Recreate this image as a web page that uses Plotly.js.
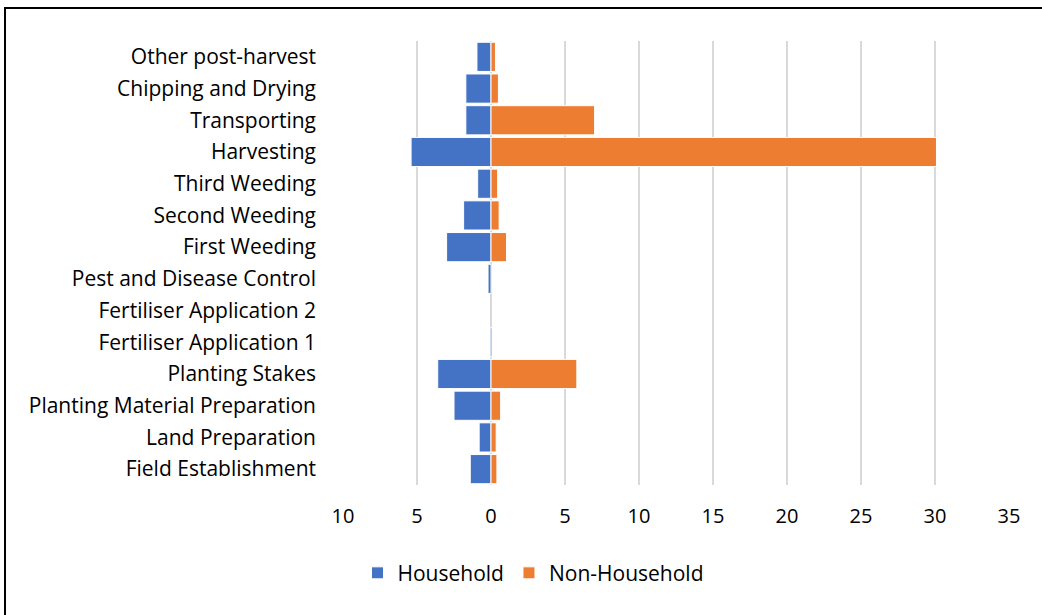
<!DOCTYPE html>
<html>
<head>
<meta charset="utf-8">
<script src="https://cdn.plot.ly/plotly-3.0.1.min.js"></script>
<style>
  html, body { margin: 0; padding: 0; background: #fff; }
  #wrap { position: relative; width: 1042px; height: 615px; }
  #chart { width: 1042px; height: 615px; }
  #frame {
    position: absolute; left: 4px; top: 7px; right: -10px; bottom: -10px;
    border-left: 2px solid #000; border-top: 2px solid #000;
    pointer-events: none;
  }
</style>
</head>
<body>
<div id="wrap">
  <div id="chart"></div>
  <div id="frame"></div>
</div>
<script>
// Activities, listed bottom to top
const activities = [
  "Field Establishment",
  "Land Preparation",
  "Planting Material Preparation",
  "Planting Stakes",
  "Fertiliser Application 1",
  "Fertiliser Application 2",
  "Pest and Disease Control",
  "First Weeding",
  "Second Weeding",
  "Third Weeding",
  "Harvesting",
  "Transporting",
  "Chipping and Drying",
  "Other post-harvest"
];

// Labour per activity
const household    = [1.4, 0.8, 2.5, 3.6, 0.1, 0.0, 0.2, 3.0, 1.85, 0.9, 5.4, 1.7, 1.7, 0.95];
const nonHousehold = [0.4, 0.35, 0.65, 5.8, 0.1, 0.0, 0.0, 1.05, 0.55, 0.45, 30.1, 7.0, 0.5, 0.3];

// Axis ticks: household drawn to the left, labelled by magnitude
const tickValues = [-10, -5, 0, 5, 10, 15, 20, 25, 30, 35];
const tickLabels = tickValues.map(v => String(Math.abs(v)));

const FONT = "'Open Sans', sans-serif";

// Outline only bars that have a length, so empty rows keep the grey zero line
const outline = vals => vals.map(v => (v === 0 ? 0 : 1));

const traces = [
  {
    type: "bar", orientation: "h", name: "Household",
    y: activities, x: household.map(v => -v),
    marker: { color: "#4472C4", line: { color: "#ffffff", width: outline(household) } },
    hoverinfo: "skip"
  },
  {
    type: "bar", orientation: "h", name: "Non-Household",
    y: activities, x: nonHousehold,
    marker: { color: "#ED7D31", line: { color: "#ffffff", width: outline(nonHousehold) } },
    hoverinfo: "skip"
  }
];

const layout = {
  width: 1042, height: 615,
  margin: { l: 343, r: 33, t: 41, b: 130 },
  paper_bgcolor: "#ffffff", plot_bgcolor: "#ffffff",
  barmode: "relative", bargap: 0.08,
  font: { family: FONT, size: 21, color: "#000" },
  xaxis: {
    range: [-10, 35], tickvals: tickValues, ticktext: tickLabels,
    showgrid: true, gridcolor: "#d9d9d9", gridwidth: 2,
    zeroline: true, zerolinecolor: "#d9d9d9", zerolinewidth: 2,
    showline: false, ticks: "", ticklabelstandoff: 17,
    tickfont: { family: FONT, size: 20, color: "#000" }, fixedrange: true
  },
  yaxis: {
    type: "category", showgrid: false, zeroline: false, showline: false,
    ticks: "", ticklabelstandoff: 26,
    tickfont: { family: FONT, size: 21, color: "#000" }, fixedrange: true
  },
  showlegend: true,
  legend: {
    orientation: "h", xref: "container", yref: "container",
    x: 0.512, xanchor: "center", y: 0.068, yanchor: "middle",
    font: { family: FONT, size: 21, color: "#000" },
    itemwidth: 30, traceorder: "normal"
  }
};

Plotly.newPlot("chart", traces, layout, { displayModeBar: false, staticPlot: true });
</script>
</body>
</html>
